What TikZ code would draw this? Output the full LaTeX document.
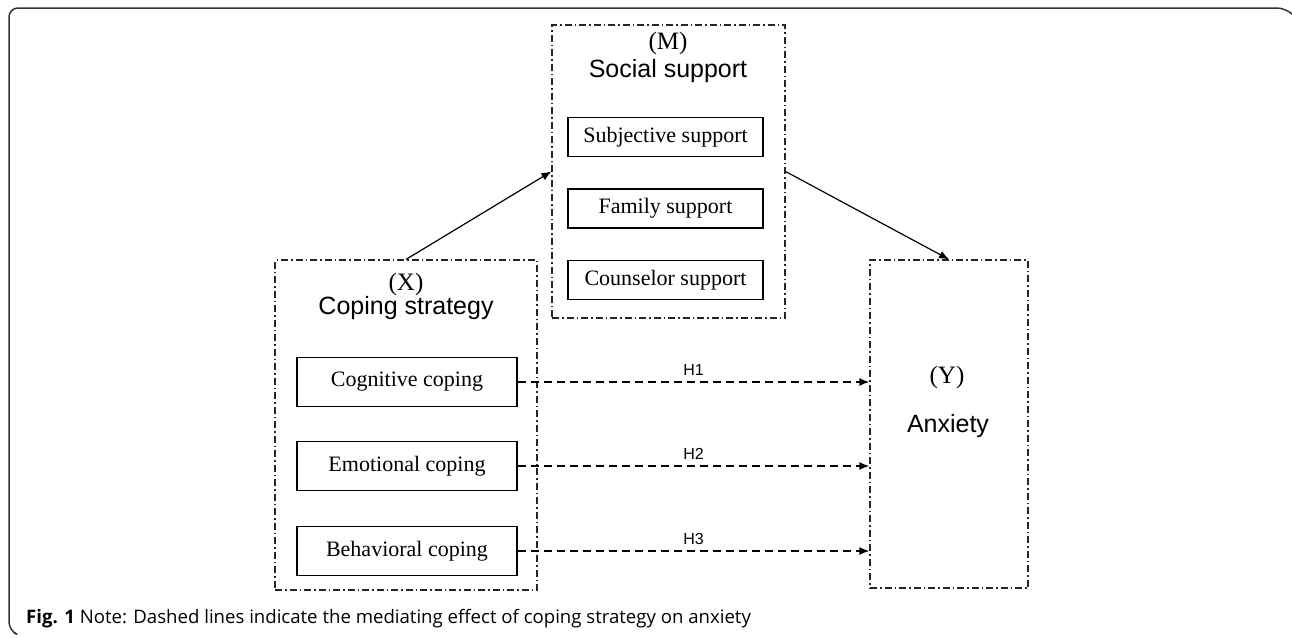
\documentclass[tikz,border=0pt]{standalone}
\usepackage{fontspec}
\setmainfont{Liberation Serif}
\setsansfont{Liberation Sans}
\newfontfamily\capfont{Open Sans}
\usepackage{tikz}
\usetikzlibrary{arrows.meta}

\tikzset{
    group/.style={draw=black!85,line width=1.2pt,dash pattern=on 7pt off 3pt on 1.5pt off 3pt},
    item/.style={draw,line width=1.5pt,inner sep=0pt,font=\fontsize{22}{26}\selectfont},
    vlab/.style={font=\fontsize{25}{28}\selectfont},
    tlab/.style={font=\sffamily\fontsize{25}{28}\selectfont},
    hyp/.style={line width=1.5pt,dash pattern=on 8pt off 5pt},
    tip/.style={-{Latex[length=10pt,width=8pt]}}
}

\begin{document}
\begin{tikzpicture}[x=1pt,y=-1pt]
        \useasboundingbox (0,0) rectangle (1292,637);
        \draw[line width=1.5pt,black!80,rounded corners=9pt] (14,633) -- (9,631) -- (9,8) -- (1286,8) -- (1292,14);

        % mediator
        \node[group,minimum width=233pt,minimum height=293pt] (M) at (668.5,171.5) {};
        \node[vlab] (Mv) at (668,43) {(M)};
        \node[tlab] (Mt) at (668,71) {Social support};
        \foreach \name/\txt/\y in {subj/Subjective support/137,fam/Family support/208.5,coun/Counselor support/280}
            \node[item,minimum width=195pt,minimum height=39pt] (\name) at (665.5,\y) {\txt};

        % independent variable
        \node[group,minimum width=262pt,minimum height=330pt] (X) at (406,425) {};
        \node[vlab] (Xv) at (406,284) {(X)};
        \node[tlab] (Xt) at (406,308) {Coping strategy};
        \foreach \name/\txt/\y in {cog/Cognitive coping/382,emo/Emotional coping/466,beh/Behavioral coping/551}
            \node[item,minimum width=220pt,minimum height=49pt] (\name) at (407,\y) {\txt};

        % outcome
        \node[group,minimum width=158pt,minimum height=328pt] (Y) at (949,424) {};
        \node[vlab] (Yv) at (947,377) {(Y)};
        \node[tlab] (Yt) at (948,426) {Anxiety};

        \draw[tip,line width=1.2pt] (X.north) -- (M.west);
        \draw[tip,line width=1.2pt] (M.east) -- (Y.north);
        \foreach \name/\h in {cog/H1,emo/H2,beh/H3}
            \draw[hyp,tip] (\name.east) -- (\name.east -| Y.west)
                node[midway,above=2pt,font=\sffamily\fontsize{16}{18}\selectfont] {\h};

        \node[anchor=base west,inner sep=0pt,font=\capfont\fontsize{18.6}{22}\selectfont] (cap) at (26,623)
            {\textbf{Fig. 1} Note: Dashed lines indicate the mediating effect of coping strategy on anxiety};
\end{tikzpicture}
\end{document}
